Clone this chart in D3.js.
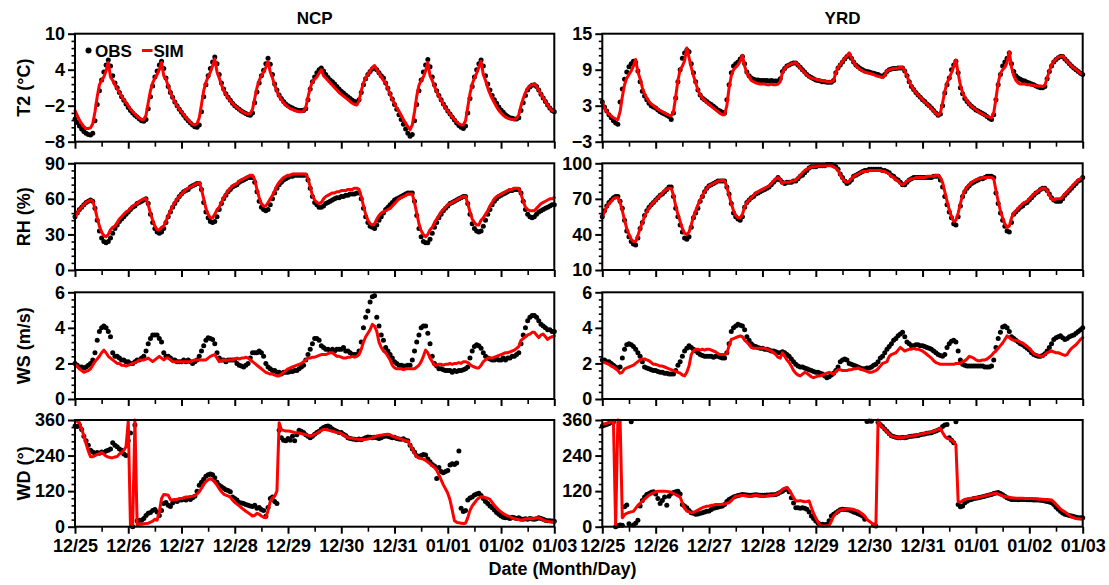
<!DOCTYPE html>
<html>
<head>
<meta charset="utf-8">
<script src="https://cdn.jsdelivr.net/npm/d3@7"></script>
<style>
  html, body { margin: 0; padding: 0; background: #fff; }
  svg { display: block; font-family: "Liberation Sans", Arial, sans-serif; font-weight: bold; }
</style>
</head>
<body>
<svg id="chart" width="1109" height="585"></svg>
<script>
// Hourly series, 12/25 00:00 through 01/03 00:00 (217 values each)
const dateLabels = ["12/25","12/26","12/27","12/28","12/29","12/30","12/31","01/01","01/02","01/03"];
const regionNames = ["NCP", "YRD"];
const variableTitles = ["T2 (\u00B0C)", "RH (%)", "WS (m/s)", "WD (\u00B0)"];

const ncpT2Ticks = [-8, -2, 4, 10];
const yrdT2Ticks = [-3, 3, 9, 15];
const ncpRhTicks = [0, 30, 60, 90];
const yrdRhTicks = [10, 40, 70, 100];
const wsTicks = [0, 2, 4, 6];
const wdTicks = [0, 120, 240, 360];

const ncpT2Obs = [
-4.2,-4.8,-5.4,-5.9,-6.3,-6.6,-6.8,-6.9,-6.6,-4.5,-1.8,0.5,2.3,3.6,4.8,5.6,4.6,3.0,1.8,1.0,0.2,-0.5,-1.1,-1.7,
-2.3,-2.8,-3.2,-3.6,-3.9,-4.2,-4.5,-4.6,-4.3,-2.5,-0.5,1.3,2.8,3.8,4.8,5.4,4.2,2.6,1.2,0.2,-0.6,-1.4,-2.0,-2.6,
-3.1,-3.6,-4.1,-4.5,-4.9,-5.2,-5.5,-5.6,-5.2,-3.0,-0.5,1.5,3.0,4.2,5.3,6.1,5.0,3.2,1.8,0.8,0.0,-0.6,-1.1,-1.6,
-2.0,-2.3,-2.6,-2.9,-3.1,-3.3,-3.5,-3.6,-3.2,-1.5,0.3,1.8,3.0,3.9,5.0,5.9,4.9,3.2,1.6,0.6,-0.2,-0.8,-1.3,-1.7,
-2.0,-2.2,-2.4,-2.6,-2.7,-2.8,-2.8,-2.8,-2.5,-1.0,0.8,2.0,2.8,3.5,4.0,4.3,3.8,3.2,2.7,2.3,2.0,1.6,1.2,0.8,
0.4,0.1,-0.2,-0.5,-0.8,-1.1,-1.3,-1.4,-1.0,0.2,1.5,2.5,3.2,3.7,4.1,4.3,4.0,3.5,3.0,2.6,1.8,0.9,0.0,-0.9,
-1.8,-2.6,-3.5,-4.3,-5.1,-5.9,-6.6,-7.1,-6.8,-4.5,-1.8,0.5,2.3,3.6,4.8,5.7,4.5,2.8,1.5,0.5,-0.3,-1.0,-1.7,-2.3,
-2.9,-3.4,-3.9,-4.4,-4.9,-5.3,-5.6,-5.8,-5.4,-3.2,-0.8,1.2,2.8,4.0,5.0,5.6,4.6,3.0,1.6,0.6,-0.3,-1.0,-1.6,-2.2,
-2.7,-3.1,-3.5,-3.8,-4.0,-4.1,-4.2,-4.2,-4.0,-2.8,-1.5,-0.3,0.6,1.1,1.4,1.5,1.2,0.6,-0.1,-0.7,-1.3,-1.9,-2.4,-2.8,
-3.0];
const ncpT2Sim = [
-2.8,-3.6,-4.4,-5.0,-5.5,-5.8,-5.8,-5.7,-5.0,-3.0,-0.5,1.5,2.2,2.8,3.8,5.2,2.8,2.2,1.5,0.8,0.2,-0.4,-1.0,-1.5,
-2.0,-2.6,-3.0,-3.4,-3.8,-4.1,-4.3,-4.3,-3.6,-1.5,0.5,1.8,2.6,3.2,4.0,5.2,3.0,2.4,1.3,0.2,-0.6,-1.4,-2.0,-2.6,
-3.0,-3.5,-4.0,-4.4,-4.8,-5.1,-5.2,-5.0,-4.0,-1.8,0.5,1.9,2.8,3.6,4.6,5.8,3.6,2.6,1.5,0.5,-0.1,-0.7,-1.2,-1.6,
-2.0,-2.3,-2.6,-2.9,-3.1,-3.3,-3.4,-3.3,-2.6,-0.8,1.0,2.2,3.0,3.6,4.4,5.4,3.6,2.6,1.4,0.4,-0.4,-1.0,-1.5,-1.9,
-2.2,-2.5,-2.6,-2.8,-2.9,-3.0,-3.0,-2.9,-2.3,-0.6,1.0,2.0,2.4,2.8,3.4,4.0,3.0,2.6,2.2,1.8,1.4,1.0,0.6,0.2,
-0.1,-0.4,-0.7,-1.0,-1.3,-1.6,-1.8,-1.9,-1.2,0.5,1.8,2.6,3.2,3.8,4.4,4.7,4.0,3.4,2.8,2.2,1.8,0.8,-0.1,-1.0,
-1.6,-2.4,-2.9,-3.6,-4.3,-4.9,-5.5,-6.0,-5.2,-3.0,-0.4,1.4,2.2,2.8,3.8,5.2,3.0,2.2,1.2,0.4,-0.4,-1.1,-1.8,-2.4,
-2.9,-3.4,-3.9,-4.3,-4.7,-5.0,-5.2,-5.2,-4.5,-2.2,0.0,1.6,2.6,3.4,4.4,5.4,3.2,2.2,1.0,0.0,-0.8,-1.5,-2.2,-2.8,
-3.2,-3.6,-3.9,-4.1,-4.2,-4.3,-4.3,-4.1,-3.5,-2.0,-0.8,0.2,0.9,1.3,1.5,1.6,1.2,0.6,-0.1,-0.7,-1.3,-1.9,-2.4,-2.8,
-3.0];

const ncpRhObs = [
45,48,51,53,55,57,58,59,58,52,42,33,27,24,23,24,27,31,35,38,41,43,45,47,
49,51,53,54,56,57,58,59,60,56,47,40,35,32,31,32,35,40,45,49,53,56,59,62,
64,66,67,68,70,71,72,73,73,68,57,49,44,41,40,41,45,51,56,60,63,66,68,70,
71,72,74,75,76,77,78,78,78,74,66,58,53,51,50,51,55,60,65,69,72,74,76,77,
78,79,79,80,80,80,80,80,80,76,69,62,57,55,53,53,54,56,57,58,59,60,61,61,
62,62,63,63,64,64,64,65,65,60,52,45,40,37,36,35,38,42,45,48,51,53,55,57,
59,60,61,62,63,64,65,65,65,58,46,35,28,24,23,23,26,31,36,40,44,47,50,52,
54,56,57,58,59,60,61,62,62,56,47,39,35,33,32,33,37,42,47,51,55,58,60,62,
63,64,65,66,67,67,68,68,68,65,58,51,47,45,44,45,47,49,50,51,52,53,54,55,
55];
const ncpRhSim = [
45,48,51,53,55,57,58,59,58,52,44,37,32,29,28,30,34,36,37,40,43,45,47,49,
50,52,54,55,56,58,59,60,60,55,48,42,37,34,34,36,37,41,46,50,54,57,60,62,
64,66,68,69,70,71,72,73,74,68,60,52,47,44,44,47,51,53,57,61,64,67,69,71,
72,73,75,76,77,78,79,80,80,76,68,61,56,54,54,57,60,63,67,71,74,76,78,79,
80,80,81,81,81,81,81,81,81,77,70,63,59,57,56,57,60,62,63,64,65,65,66,66,
67,67,67,68,68,68,69,69,68,62,54,47,42,39,38,39,43,46,48,49,50,51,52,54,
56,58,60,61,62,63,64,64,64,57,48,39,33,30,28,30,34,36,40,43,46,49,51,53,
55,56,57,58,59,60,61,62,62,56,49,43,40,38,38,42,44,47,50,54,57,60,62,63,
64,65,66,67,68,68,69,69,69,64,58,53,51,50,50,50,52,54,56,57,58,59,60,60,
61];

const ncpWsObs = [
2.0,1.9,1.8,1.8,1.75,1.8,1.9,2.0,2.2,2.6,3.3,3.8,4.0,4.1,4.0,3.8,3.5,2.6,2.4,2.4,2.3,2.2,2.2,2.1,
2.1,2.0,2.0,2.1,2.2,2.2,2.3,2.4,2.7,3.1,3.4,3.6,3.6,3.6,3.4,3.2,2.6,2.4,2.4,2.3,2.2,2.2,2.1,2.1,
2.1,2.2,2.1,2.2,2.1,2.0,2.1,2.2,2.4,2.7,3.0,3.3,3.45,3.4,3.35,3.1,2.6,2.3,2.2,2.2,2.1,2.2,2.2,2.2,
2.2,2.0,1.9,1.85,1.8,1.9,2.0,2.3,2.6,2.6,2.6,2.7,2.6,2.4,2.0,1.8,1.7,1.6,1.6,1.5,1.5,1.4,1.5,1.5,
1.5,1.55,1.55,1.6,1.6,1.7,1.8,1.9,2.2,2.5,2.8,3.1,3.4,3.4,3.3,3.0,2.9,2.8,2.8,2.7,2.8,2.7,2.8,2.8,
2.8,2.9,2.7,2.7,2.6,2.5,2.5,2.5,2.7,3.2,4.0,4.6,4.95,5.45,5.75,5.8,4.6,4.1,3.6,3.3,2.9,2.7,2.5,2.3,
2.1,2.0,1.9,1.9,1.85,1.85,1.9,1.9,2.2,2.7,3.2,3.6,4.0,4.1,4.1,3.7,3.1,2.4,2.0,1.85,1.7,1.7,1.65,1.6,
1.6,1.6,1.5,1.6,1.55,1.6,1.6,1.65,1.7,1.8,2.3,2.7,2.95,3.05,3.0,2.85,2.6,2.4,2.3,2.25,2.2,2.2,2.25,2.2,
2.2,2.3,2.2,2.3,2.3,2.4,2.4,2.5,2.6,3.1,3.6,4.0,4.4,4.6,4.7,4.7,4.6,4.4,4.2,4.1,4.0,3.9,3.9,3.8,
3.8];
const ncpWsSim = [
1.95,1.85,1.7,1.6,1.5,1.55,1.6,1.7,1.9,2.1,2.25,2.4,2.6,2.75,2.6,2.4,2.3,2.2,2.1,2.0,2.0,1.9,1.9,1.85,
1.9,1.95,2.0,2.05,2.1,2.2,2.2,2.2,2.25,2.3,2.2,2.1,2.2,2.3,2.4,2.3,2.2,2.3,2.3,2.2,2.1,2.1,2.1,2.1,
2.1,2.1,2.1,2.1,2.1,2.15,2.2,2.2,2.2,2.2,2.2,2.2,2.3,2.4,2.45,2.5,2.3,2.1,2.15,2.2,2.15,2.2,2.2,2.2,
2.25,2.3,2.25,2.3,2.3,2.35,2.3,2.2,2.1,2.0,1.9,1.8,1.7,1.6,1.5,1.45,1.4,1.4,1.35,1.3,1.3,1.4,1.5,1.6,
1.7,1.75,1.8,1.85,1.9,1.95,2.0,2.1,2.2,2.3,2.3,2.35,2.35,2.4,2.45,2.5,2.5,2.5,2.55,2.6,2.6,2.5,2.4,2.4,
2.35,2.3,2.3,2.35,2.35,2.4,2.35,2.4,2.5,2.8,3.2,3.5,3.7,3.9,4.2,4.1,3.8,3.2,2.9,2.7,2.6,2.4,2.2,1.9,
1.75,1.7,1.7,1.7,1.65,1.7,1.7,1.7,1.7,1.7,1.8,1.9,2.1,2.4,2.75,2.6,2.3,2.1,1.9,1.9,1.95,1.95,1.9,1.95,
1.95,2.0,1.95,2.0,2.0,2.05,2.0,2.1,2.1,2.05,1.95,1.85,1.8,1.75,1.75,1.9,2.1,2.2,2.3,2.3,2.3,2.35,2.4,2.45,
2.5,2.55,2.6,2.6,2.65,2.7,2.75,2.85,2.95,3.3,3.4,3.5,3.6,3.65,3.75,3.75,3.6,3.45,3.6,3.65,3.5,3.35,3.45,3.5,
3.55];

const ncpWdObs = [
340,338,342,328,305,290,275,258,252,248,250,248,252,250,255,258,262,283,275,270,262,258,245,240,
290,316,0,343,20,22,22,28,38,45,48,55,58,50,38,55,78,82,72,68,80,88,85,90,
90,92,90,95,92,98,103,120,140,150,160,170,175,178,175,165,150,140,135,130,125,122,118,100,
95,90,82,80,78,75,72,70,68,72,62,65,58,55,35,65,95,100,85,78,325,300,292,290,
298,292,305,290,310,325,322,318,310,305,300,305,312,318,322,330,335,338,340,336,330,325,322,318,
318,312,308,300,298,296,295,293,296,293,297,300,303,302,300,302,300,298,300,304,306,305,303,300,
302,298,296,295,297,292,290,275,262,252,240,236,240,244,242,228,219,210,205,163,200,186,182,186,
190,208,212,210,215,255,62,51,55,90,97,100,107,110,113,105,95,85,78,70,64,56,48,42,
36,32,30,30,28,32,30,28,30,26,25,27,25,28,26,25,27,30,28,25,22,20,20,19,
18];
const ncpWdSim = [
357,355,351,330,306,280,255,236,236,240,244,246,250,245,238,235,233,233,235,237,245,250,258,270,
355,0,2,360,5,8,8,10,11,12,15,19,25,22,50,95,109,108,106,92,90,92,92,95,
95,98,100,100,102,103,105,110,118,130,142,152,158,162,158,150,140,128,118,110,106,104,100,90,
82,76,70,64,58,52,47,42,36,38,45,42,36,32,30,55,85,98,103,120,351,328,325,323,
323,322,320,318,317,316,314,312,310,308,306,308,312,315,320,325,328,328,326,324,322,320,318,317,
314,310,305,300,299,298,296,295,295,294,294,295,296,298,300,303,306,308,309,310,311,312,310,306,
303,300,298,296,293,290,289,275,262,248,236,232,230,228,224,218,212,206,200,190,175,158,141,127,
113,90,56,20,15,13,12,11,12,30,55,70,80,90,97,101,100,98,96,92,82,72,64,56,
50,44,40,36,34,30,27,25,24,22,24,26,27,28,27,28,30,30,27,22,19,18,17,16,
16];

const yrdT2Obs = [
3.6,2.8,2.1,1.5,1.0,0.5,0.1,-0.1,3.6,5.8,7.4,8.6,9.5,10.0,10.4,10.2,8.8,7.0,5.4,4.6,4.0,3.4,3.0,2.8,
2.6,2.3,2.0,1.8,1.6,1.4,1.2,0.7,1.8,4.3,7.0,9.0,10.9,11.8,12.3,12.0,10.0,8.5,7.0,5.6,4.8,4.3,4.0,3.7,
3.4,3.2,2.9,2.6,2.3,2.1,1.9,1.8,4.0,6.5,8.5,9.6,10.0,10.3,10.8,11.2,10.0,8.6,8.0,7.6,7.4,7.3,7.3,7.2,
7.2,7.2,7.2,7.1,7.2,7.1,7.1,7.1,7.5,8.7,9.2,9.6,9.8,10.0,10.1,10.1,9.8,9.4,9.0,8.6,8.2,7.9,7.7,7.5,
7.3,7.2,7.1,7.0,7.0,6.9,6.9,6.9,7.2,8.5,9.3,9.8,10.3,10.8,11.2,11.5,10.9,10.3,9.8,9.5,9.2,9.0,8.8,8.7,
8.6,8.5,8.4,8.3,8.2,8.0,7.9,8.2,8.7,9.0,9.1,9.2,9.2,9.3,9.3,9.3,8.8,8.0,7.0,6.2,5.7,5.2,4.8,4.4,
4.0,3.7,3.3,3.0,2.6,2.2,1.8,1.4,1.6,3.0,5.1,6.5,7.6,9.0,9.8,10.4,8.5,6.0,5.0,4.2,3.7,3.3,2.9,2.6,
2.3,2.1,1.9,1.7,1.5,1.2,0.9,0.7,1.5,4.0,6.5,8.2,9.6,10.3,10.9,11.8,10.0,8.7,8.0,7.6,7.4,7.2,7.1,6.9,
6.8,6.6,6.5,6.3,6.1,6.0,6.0,6.2,7.5,8.7,9.6,10.3,10.7,11.0,11.2,11.2,10.8,10.4,10.0,9.6,9.3,9.0,8.7,8.4,
8.2];
const yrdT2Sim = [
3.6,2.6,2.0,1.6,1.3,1.0,0.8,0.7,2.0,4.5,6.5,7.6,8.2,8.8,9.6,10.7,8.6,7.5,6.0,5.0,4.3,3.7,3.3,3.0,
2.7,2.4,2.2,2.0,1.8,1.6,1.4,1.3,2.0,4.5,7.2,9.0,9.6,10.5,12.6,11.0,9.4,8.0,6.8,5.6,4.8,4.3,3.9,3.5,
3.2,2.9,2.6,2.3,2.0,1.7,1.5,1.5,3.0,6.0,8.0,9.0,9.4,9.8,10.4,11.4,9.6,8.4,7.8,7.2,7.0,6.8,6.7,6.6,
6.6,6.6,6.5,6.5,6.6,6.5,6.5,6.6,7.0,8.5,9.2,9.6,9.8,10.0,10.1,10.2,9.8,9.3,8.9,8.5,8.1,7.8,7.6,7.5,
7.4,7.3,7.2,7.1,7.1,7.0,7.0,7.0,7.2,8.5,9.4,9.9,10.4,10.9,11.3,11.8,11.0,10.3,9.7,9.3,9.0,8.8,8.6,8.5,
8.4,8.3,8.2,8.0,7.9,7.8,7.7,8.0,8.8,9.0,9.1,9.2,9.2,9.3,9.4,9.4,8.8,7.9,7.0,6.3,5.7,5.2,4.8,4.4,
4.0,3.6,3.3,2.9,2.5,2.1,1.7,1.4,1.8,3.5,5.4,6.8,7.6,8.5,9.5,10.6,8.4,6.4,5.2,4.4,3.8,3.3,2.9,2.6,
2.3,2.0,1.8,1.6,1.4,1.2,1.1,1.0,1.8,4.2,6.8,8.4,9.0,9.4,10.2,12.0,9.4,8.0,7.2,6.8,6.6,6.6,6.6,6.5,
6.5,6.4,6.4,6.3,6.3,6.3,6.2,6.4,7.6,8.8,9.8,10.4,10.8,11.1,11.2,11.3,10.8,10.4,10.0,9.6,9.3,9.0,8.7,8.4,
8.3];

const yrdRhObs = [
55,60,64,67,69,71,72,72,68,62,52,43,38,34,32,31,37,45,50,56,60,63,65,67,
69,71,73,74,76,78,80,80,72,62,55,48,42,37,36,38,46,54,58,62,68,72,76,79,
81,82,83,84,85,85,85,85,80,74,66,58,55,53,52,55,63,67,69,71,72,74,75,76,
77,78,79,80,82,84,86,88,86,84,83,84,84,84,85,85,87,89,90,92,94,96,97,97,
97,98,98,98,98,99,99,99,98,97,95,91,88,85,83,84,86,89,90,91,92,93,94,94,
95,95,95,95,95,95,94,94,93,92,90,89,87,86,84,82,82,84,86,87,88,88,88,88,
88,88,88,88,88,89,89,89,86,80,72,65,59,54,49,48,55,64,72,76,79,81,83,84,
85,86,87,87,88,89,89,89,88,75,66,58,52,47,43,42,50,57,59,61,63,64,66,67,
69,71,73,75,76,78,79,79,77,74,71,69,68,68,68,70,73,75,77,79,81,83,85,86,
88];
const yrdRhSim = [
55,59,63,66,68,70,71,71,67,60,52,45,40,36,34,34,39,45,50,55,59,62,65,67,
69,71,73,75,77,78,79,79,73,64,57,51,45,41,40,42,48,55,60,65,69,73,76,79,
81,82,83,84,85,85,86,85,80,73,66,60,56,54,54,57,63,67,69,71,73,75,76,77,
78,79,80,81,83,85,87,88,86,83,84,84,84,85,85,86,88,90,92,94,95,96,97,97,
97,98,98,98,98,98,98,98,97,96,94,90,87,85,84,85,87,89,90,91,92,93,93,93,
94,94,94,94,94,94,93,93,92,91,89,88,86,85,83,82,83,85,86,87,87,88,88,88,
88,88,89,89,89,89,90,90,88,84,76,68,61,55,51,52,58,66,73,77,80,82,84,85,
86,87,87,88,88,88,88,88,87,77,68,60,54,49,46,47,54,58,60,62,64,66,67,68,
70,72,74,75,77,78,79,79,77,73,70,69,70,70,70,72,74,76,78,80,82,84,86,87,
88];

const yrdWsObs = [
2.2,2.2,2.1,2.1,2.0,1.9,1.8,1.75,1.8,2.3,2.8,3.05,3.1,3.05,2.95,2.8,2.6,2.4,2.1,1.8,1.75,1.7,1.65,1.6,
1.6,1.55,1.5,1.5,1.45,1.45,1.4,1.4,1.4,1.6,1.9,2.1,2.4,2.7,2.85,3.0,2.9,2.8,2.7,2.6,2.5,2.45,2.4,2.4,
2.4,2.4,2.35,2.4,2.4,2.35,2.3,2.3,2.6,3.1,3.8,4.0,4.1,4.2,4.15,4.1,3.9,3.5,3.3,3.1,3.0,2.95,2.9,2.85,
2.85,2.8,2.8,2.75,2.7,2.7,2.65,2.6,2.6,2.65,2.6,2.5,2.4,2.25,2.1,1.95,1.85,1.8,1.8,1.75,1.7,1.65,1.6,1.55,
1.5,1.5,1.45,1.4,1.3,1.2,1.25,1.35,1.45,1.6,1.8,2.1,2.2,2.25,2.2,2.0,1.95,1.9,1.85,1.8,1.75,1.7,1.7,1.75,
1.75,1.8,1.9,1.95,2.1,2.3,2.4,2.6,2.8,2.95,3.1,3.3,3.4,3.55,3.65,3.75,3.5,3.2,3.1,3.0,3.0,3.05,3.05,3.0,
3.0,2.95,2.9,2.85,2.8,2.7,2.6,2.5,2.45,2.4,2.5,2.9,3.1,3.25,3.3,3.2,2.7,2.2,1.95,1.9,1.85,1.85,1.85,1.85,
1.85,1.85,1.85,1.85,1.8,1.8,1.8,1.85,2.2,2.9,3.4,3.75,4.05,4.1,4.0,3.8,3.5,3.4,3.3,3.2,3.1,3.05,2.95,2.85,
2.75,2.6,2.5,2.45,2.4,2.4,2.45,2.55,2.7,2.9,3.1,3.35,3.45,3.5,3.55,3.45,3.35,3.4,3.5,3.55,3.6,3.7,3.8,3.9,
4.0];
const yrdWsSim = [
2.1,2.05,2.0,1.95,1.85,1.8,1.7,1.6,1.45,1.5,1.7,1.75,1.8,1.85,1.9,2.0,2.1,2.2,2.25,2.25,2.2,2.15,2.05,1.95,
1.95,1.9,1.85,1.85,1.8,1.75,1.7,1.65,1.6,1.55,1.5,1.45,1.35,1.3,1.5,1.85,2.5,2.7,2.8,2.8,2.75,2.8,2.75,2.8,
2.8,2.75,2.7,2.65,2.55,2.5,2.5,2.5,2.55,3.0,3.35,3.4,3.45,3.5,3.55,3.5,3.3,3.2,3.05,2.9,2.85,2.85,2.85,2.85,
2.85,2.85,2.8,2.75,2.7,2.6,2.5,2.35,2.3,2.6,2.4,2.2,2.05,1.85,1.6,1.45,1.35,1.3,1.4,1.5,1.45,1.35,1.25,1.2,
1.25,1.3,1.3,1.35,1.4,1.45,1.5,1.45,1.4,1.55,1.65,1.65,1.6,1.6,1.6,1.65,1.65,1.7,1.7,1.75,1.7,1.65,1.6,1.55,
1.5,1.5,1.55,1.6,1.7,1.85,2.0,2.05,2.1,2.4,2.5,2.55,2.6,2.75,2.9,2.8,2.7,2.75,2.8,2.8,2.85,2.8,2.8,2.75,
2.7,2.6,2.5,2.4,2.3,2.15,2.05,2.0,1.95,1.95,1.95,1.95,1.95,1.95,1.95,2.0,2.0,2.0,2.1,2.15,2.25,2.4,2.35,2.3,
2.2,2.15,2.15,2.2,2.2,2.25,2.35,2.45,2.6,2.7,2.85,3.0,3.15,3.35,3.55,3.45,3.35,3.3,3.3,3.25,3.2,3.15,3.05,2.95,
2.85,2.7,2.55,2.5,2.45,2.4,2.4,2.5,2.6,2.65,2.7,2.65,2.6,2.6,2.55,2.5,2.45,2.5,2.7,2.85,2.95,3.05,3.2,3.35,
3.45];

const yrdWdObs = [
340,342,345,348,352,353,0,3,6,5,67,73,10,354,6,12,22,70,88,100,109,112,116,118,
110,95,78,88,100,72,103,112,115,118,120,110,75,70,64,55,47,45,42,43,45,47,50,52,
53,58,62,64,66,68,70,75,85,92,96,100,103,105,107,109,108,107,106,106,107,108,107,106,
106,106,107,107,108,108,109,112,116,120,125,128,118,98,80,64,64,62,64,62,59,50,36,28,
19,12,8,8,7,8,20,36,42,47,52,57,59,58,57,56,53,50,47,44,40,36,25,355,
357,356,6,2,352,345,338,330,322,314,307,304,302,300,300,301,300,302,304,305,306,307,308,310,
312,313,315,316,317,320,323,326,330,338,343,345,300,292,283,354,75,67,70,81,86,90,92,95,
96,98,99,101,103,105,107,109,112,114,115,112,108,103,98,94,92,92,92,91,92,92,92,91,
91,91,90,90,90,89,88,87,85,83,81,75,66,59,52,46,42,40,38,36,34,32,30,30,
30];
const yrdWdSim = [
345,347,349,351,354,358,2,360,358,30,40,45,48,50,52,62,72,79,86,93,100,106,110,114,
118,120,120,120,120,119,118,116,112,108,104,100,80,62,53,50,47,48,52,56,60,64,67,69,
70,72,73,75,75,75,76,77,79,81,88,96,103,104,105,106,105,104,103,104,106,107,106,104,
104,103,104,105,106,107,109,113,118,126,130,132,124,112,98,87,87,88,86,84,85,87,65,45,
30,15,4,2,2,3,4,18,36,44,52,56,58,59,60,60,60,58,55,53,48,42,36,25,
18,13,6,0,360,343,335,329,320,312,306,304,302,300,300,301,302,304,305,306,307,308,310,312,
314,315,317,318,320,322,325,328,332,318,305,298,296,292,286,276,85,82,88,92,94,95,96,97,
98,99,100,102,104,106,108,110,112,113,110,107,104,102,100,99,98,97,96,96,96,96,95,95,
95,95,94,94,93,93,93,92,92,91,90,84,76,68,60,54,50,44,38,33,30,28,27,26,
25];

// Panel grid: columns = region, rows = variable
const panels = [
  { col: 0, row: 0, domain: [-8, 10],  ticks: ncpT2Ticks, obs: ncpT2Obs, sim: ncpT2Sim },
  { col: 0, row: 1, domain: [0, 90],   ticks: ncpRhTicks, obs: ncpRhObs, sim: ncpRhSim },
  { col: 0, row: 2, domain: [0, 6],    ticks: wsTicks,    obs: ncpWsObs, sim: ncpWsSim },
  { col: 0, row: 3, domain: [0, 360],  ticks: wdTicks,    obs: ncpWdObs, sim: ncpWdSim },
  { col: 1, row: 0, domain: [-3, 15],  ticks: yrdT2Ticks, obs: yrdT2Obs, sim: yrdT2Sim },
  { col: 1, row: 1, domain: [10, 100], ticks: yrdRhTicks, obs: yrdRhObs, sim: yrdRhSim },
  { col: 1, row: 2, domain: [0, 6],    ticks: wsTicks,    obs: yrdWsObs, sim: yrdWsSim },
  { col: 1, row: 3, domain: [0, 360],  ticks: wdTicks,    obs: yrdWdObs, sim: yrdWdSim }
];

const svg = d3.select("#chart");
const colX = [[75, 554.3], [602.3, 1082.7]];
const rowY = [[33.7, 141.7], [163.3, 270], [292.3, 399], [420, 526.7]];
const hoursTotal = 216;
const dayTicks = d3.range(0, hoursTotal + 1, 24);
const halfDayTicks = d3.range(12, hoursTotal, 24);
const FONT = '"Liberation Sans", Arial, sans-serif';
const fmt = v => (v < 0 ? "\u2212" + Math.abs(v) : String(v));

function styleAxis(g, size) {
  g.attr("font-family", FONT).attr("font-size", size).attr("font-weight", "bold");
  g.select(".domain").remove();
  g.selectAll(".tick line").attr("stroke", "#000").attr("stroke-width", 2);
  g.selectAll(".tick text").attr("fill", "#000");
}

panels.forEach(p => {
  const [x0, x1] = colX[p.col];
  const [yT, yB] = rowY[p.row];
  const x = d3.scaleLinear().domain([0, hoursTotal]).range([x0, x1]);
  const y = d3.scaleLinear().domain(p.domain).range([yB, yT]);
  const g = svg.append("g");

  // minor y ticks: five sub-intervals between labelled ticks
  const step = (p.ticks[1] - p.ticks[0]) / 5;
  const minorY = d3.range(p.domain[0], p.domain[1] + step / 2, step)
    .filter(v => !p.ticks.some(t => Math.abs(t - v) < 1e-6));

  const yMinor = g.append("g").attr("transform", `translate(${x0},0)`)
    .call(d3.axisLeft(y).tickValues(minorY).tickSize(3.5).tickSizeOuter(0).tickFormat(""));
  styleAxis(yMinor, 18);
  yMinor.selectAll(".tick line").attr("stroke-width", 1.6);

  const yMajor = g.append("g").attr("transform", `translate(${x0},0)`)
    .call(d3.axisLeft(y).tickValues(p.ticks).tickSize(7).tickSizeOuter(0).tickPadding(3).tickFormat(fmt));
  styleAxis(yMajor, 18);

  const xMinor = g.append("g").attr("transform", `translate(0,${yB})`)
    .call(d3.axisBottom(x).tickValues(halfDayTicks).tickSize(5).tickSizeOuter(0).tickFormat(""));
  styleAxis(xMinor, 18);
  xMinor.selectAll(".tick line").attr("stroke-width", 1.6);

  const xMajor = g.append("g").attr("transform", `translate(0,${yB})`)
    .call(d3.axisBottom(x).tickValues(dayTicks).tickSize(7).tickSizeOuter(0).tickPadding(6)
      .tickFormat((d, i) => (p.row === 3 ? dateLabels[i] : "")));
  styleAxis(xMajor, 18);

  // observations
  g.append("g").selectAll("circle").data(p.obs).join("circle")
    .attr("cx", (d, i) => x(i)).attr("cy", d => y(d)).attr("r", 2.5).attr("fill", "#000");

  // simulation
  const line = d3.line().x((d, i) => x(i)).y(d => y(d));
  g.append("path").datum(p.sim).attr("d", line)
    .attr("fill", "none").attr("stroke", "#ff0000").attr("stroke-width", 3)
    .attr("stroke-linejoin", "round").attr("stroke-linecap", "round");

  // frame
  g.append("rect").attr("x", x0).attr("y", yT).attr("width", x1 - x0).attr("height", yB - yT)
    .attr("fill", "none").attr("stroke", "#000").attr("stroke-width", 2);

  // variable title on the left column
  if (p.col === 0) {
    svg.append("text")
      .attr("transform", `translate(24,${(yT + yB) / 2}) rotate(-90)`)
      .attr("text-anchor", "middle").attr("dominant-baseline", "central")
      .attr("font-family", FONT).attr("font-size", 18).attr("font-weight", "bold")
      .text(variableTitles[p.row]);
  }
});

// region titles
regionNames.forEach((name, i) => {
  svg.append("text")
    .attr("x", (colX[i][0] + colX[i][1]) / 2).attr("y", 24)
    .attr("text-anchor", "middle")
    .attr("font-family", FONT).attr("font-size", 17).attr("font-weight", "bold")
    .text(name);
});

// legend
const legend = svg.append("g").attr("font-family", FONT).attr("font-size", 17).attr("font-weight", "bold");
legend.append("circle").attr("cx", 88.5).attr("cy", 50.5).attr("r", 3).attr("fill", "#000");
legend.append("text").attr("x", 95).attr("y", 56.7).text("OBS");
legend.append("line").attr("x1", 142).attr("x2", 152.5).attr("y1", 50.5).attr("y2", 50.5)
  .attr("stroke", "#ff0000").attr("stroke-width", 3);
legend.append("text").attr("x", 153.5).attr("y", 56.7).text("SIM");

// shared x-axis title
svg.append("text")
  .attr("x", 562.5).attr("y", 575)
  .attr("text-anchor", "middle")
  .attr("font-family", FONT).attr("font-size", 18).attr("font-weight", "bold")
  .text("Date (Month/Day)");
</script>
</body>
</html>
